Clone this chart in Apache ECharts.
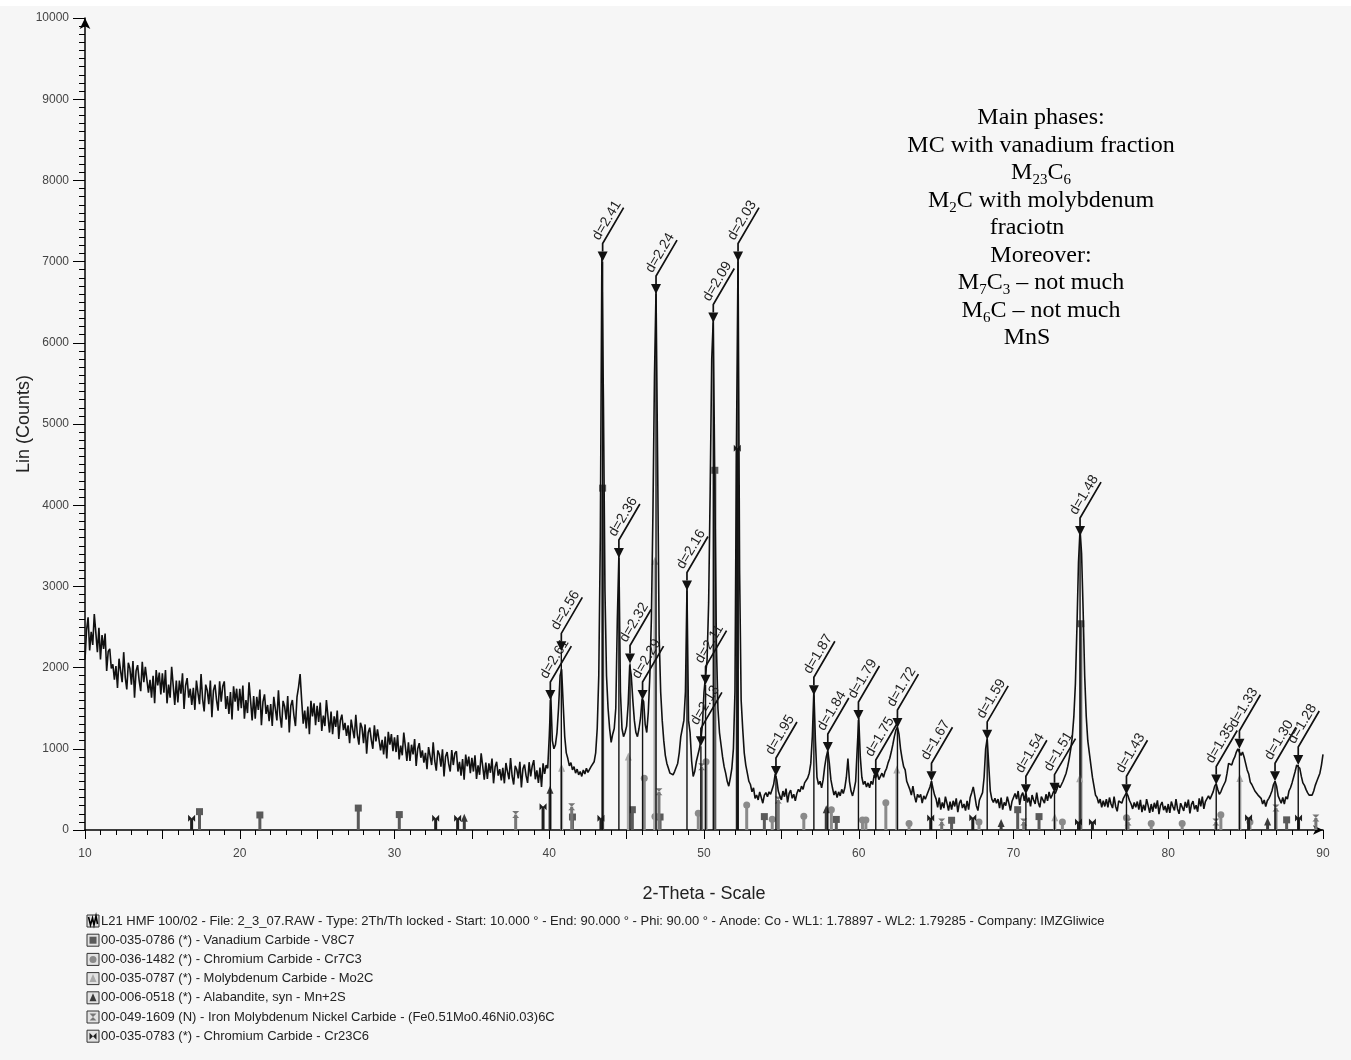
<!DOCTYPE html>
<html>
<head>
<meta charset="utf-8">
<script src="https://cdn.jsdelivr.net/npm/echarts@6/dist/echarts.min.js"></script>
<style>
  html, body { margin: 0; padding: 0; background: #f6f6f6; }
  #chart { width: 1351px; height: 1060px; }
</style>
</head>
<body>
<div id="chart"></div>
<script>
// Scan: 2Th/Th locked, Co anode, 10.0 - 90.0 deg, intensities at 0.1 deg steps
const scanStart = 10.0;
const scanStep = 0.1;
const counts = [
  2100, 2460, 2620, 2210, 2440, 2280, 2660, 2430, 2190, 2490,
  2100, 2400, 2230, 2420, 1960, 2200, 2230, 1990, 2040, 1850,
  2020, 1750, 2110, 1960, 1820, 2190, 1880, 1730, 2060, 1990,
  1790, 2080, 1630, 1960, 2030, 1840, 1710, 2070, 1820, 2010,
  2030, 1690, 1850, 1630, 1900, 1560, 1970, 1780, 1940, 1670,
  1930, 1690, 1970, 1560, 1790, 1630, 2010, 1780, 1540, 1840,
  1570, 1840, 1680, 1930, 1490, 1780, 1870, 1630, 1740, 1540,
  1750, 1480, 1840, 1690, 1550, 1920, 1610, 1460, 1790, 1720,
  1550, 1840, 1390, 1720, 1790, 1600, 1470, 1830, 1580, 1770,
  1830, 1490, 1650, 1430, 1700, 1360, 1770, 1580, 1740, 1470,
  1740, 1500, 1780, 1370, 1600, 1440, 1820, 1590, 1350, 1650,
  1370, 1640, 1480, 1730, 1290, 1580, 1670, 1430, 1540, 1340,
  1550, 1280, 1640, 1490, 1350, 1720, 1410, 1260, 1590, 1520,
  1360, 1650, 1200, 1530, 1600, 1410, 1280, 1640, 1760, 1920,
  1600, 1310, 1470, 1250, 1520, 1180, 1590, 1400, 1560, 1290,
  1530, 1330, 1570, 1220, 1410, 1280, 1600, 1400, 1200, 1460,
  1180, 1400, 1270, 1470, 1120, 1350, 1420, 1230, 1320, 1160,
  1290, 1070, 1360, 1240, 1130, 1420, 1170, 1050, 1320, 1260,
  1070, 1300,  940, 1200, 1260, 1110, 1000, 1290, 1090, 1240,
  1250,  980, 1110,  930, 1150,  880, 1210, 1050, 1180,  970,
  1140,  960, 1170,  870, 1040,  920, 1200, 1030,  850, 1080,
   850, 1050,  930, 1120,  790, 1000, 1070,  890,  980,  830,
   950,  750, 1020,  910,  800, 1080,  850,  730,  980,  930,
   780,  995,  660,  905,  960,  815,  720,  985,  800,  945,
   970,  720,  840,  670,  875,  620,  930,  785,  905,  700,
   890,  720,  920,  630,  795,  680,  945,  785,  620,  830,
   630,  820,  705,  880,  575,  775,  840,  670,  750,  610,
   765,  575,  825,  720,  625,  885,  665,  560,  790,  745,
   635,  840,  525,  755,  805,  670,  580,  835,  660,  790,
   860,  625,  735,  580,  770,  530,  820,  690,  800,  760,
  1150, 1650, 1100, 1000, 1050, 1200, 1500, 1900, 1980, 1550,
  1150,  950,  880,  790,  830,  740,  780,  700,  750,  680,
   720,  660,  740,  690,  760,  710,  720,  780,  760,  840,
   950, 1250, 1900, 3600, 7050, 5300, 2950, 1900, 1500, 1250,
  1080, 1180, 1250, 1500, 2600, 3380, 1700, 1250, 1150, 1200,
  1280, 1550, 2030, 1900, 1600, 1350, 1200, 1150, 1250, 1380,
  1620, 1580, 1300, 1200, 1450, 1900, 2600, 3900, 5600, 6650,
  4600, 2400, 1700, 1350, 1100,  920,  820,  760,  700,  720,
   680,  720,  700,  820,  950, 1150, 1250, 1350, 1700, 2980,
  1350, 1200,  850,  660,  720,  840,  920, 1000, 1110, 1300,
  1700, 1900, 2100, 2800, 4200, 5800, 6300, 4200, 2300, 1500,
  1200, 1050,  900,  780,  700,  600,  540,  640,  760, 1000,
  1700, 4800, 7080, 3200, 1600, 1250,  950,  800,  700,  600,
   560,  470,  520,  390,  430,  370,  470,  400,  330,  430,
   460,  410,  470,  440,  500,  560,  690,  620,  480,  420,
   370,  480,  410,  510,  340,  450,  490,  390,  440,  360,
   450,  500,  470,  540,  500,  580,  560,  640,  700,  820,
  1150, 1720, 1100,  650,  560,  600,  520,  620,  780,  900,
   980,  820,  620,  520,  430,  480,  400,  470,  420,  500,
   450,  520,  650,  880,  600,  480,  420,  500,  600, 1000,
  1380,  900,  650,  560,  600,  530,  580,  520,  600,  560,
   680,  640,  700,  620,  660,  700,  650,  720,  760,  830,
   880,  960, 1050, 1150, 1230, 1270, 1180, 1000,  880,  780,
   740,  600,  620,  500,  430,  540,  420,  340,  440,  400,
   440,  330,  420,  380,  400,  480,  530,  600,  510,  430,
   380,  280,  400,  250,  340,  270,  410,  330,  240,  350,
   250,  360,  290,  390,  220,  330,  370,  270,  320,  240,
   360,  250,  400,  460,  530,  420,  300,  240,  370,  350,
   460,  650, 1000, 1130,  800,  480,  380,  340,  390,  330,
   380,  270,  400,  250,  340,  300,  410,  330,  240,  350,
   340,  450,  380,  480,  310,  420,  460,  360,  460,  340,
   400,  290,  430,  370,  320,  460,  340,  280,  410,  390,
   330,  440,  360,  470,  390,  430,  480,  450,  500,  560,
   520,  560,  600,  650,  700,  780,  880, 1000, 1150, 1400,
  1800, 2500, 3300, 3700, 3400, 2700, 1900, 1400, 1100,  950,
   800,  650,  540,  430,  400,  330,  380,  280,  360,  290,
   380,  280,  400,  320,  270,  410,  290,  230,  360,  340,
   330,  390,  400,  460,  420,  360,  320,  260,  340,  280,
   350,  250,  370,  220,  310,  240,  380,  300,  210,  320,
   225,  335,  265,  365,  195,  305,  345,  245,  295,  215,
   320,  210,  350,  290,  240,  380,  260,  200,  330,  310,
   235,  345,  275,  375,  205,  315,  355,  255,  305,  225,
   390,  290,  410,  260,  350,  330,  420,  380,  360,  470,
   540,  570,  500,  440,  470,  520,  560,  600,  700,  820,
   840,  800,  860,  900,  960, 1000, 1020,  920,  960,  900,
   820,  740,  690,  590,  560,  520,  480,  500,  430,  450,
   390,  320,  370,  290,  360,  390,  430,  480,  560,  600,
   540,  420,  440,  330,  400,  320,  410,  380,  480,  520,
   580,  650,  720,  800,  820,  760,  660,  580,  550,  500,
   460,  430,  410,  430,  480,  550,  600,  620,  700,  800,
   930
];

// Peak search results: position (2Theta), marker height (counts), d-spacing label
const peakTheta  = [40.07, 40.78, 43.45, 44.5, 45.22, 46.03, 46.9, 48.9, 49.8, 50.1, 50.6, 52.2,
                    54.65, 57.1, 58.0, 59.98, 61.1, 62.5, 64.7, 68.3, 70.8, 72.65, 74.3, 77.3,
                    83.1, 84.6, 86.9, 88.4];
const peakCounts = [1600, 2200, 7000, 3350, 2050, 1600, 6600, 2950, 1030, 1790, 6250, 7000,
                    665, 1660, 960, 1355, 640, 1255, 600, 1110, 440, 460, 3620, 440,
                    560, 1000, 600, 800];
const peakLabels = ['d=2.61', 'd=2.56', 'd=2.41', 'd=2.36', 'd=2.32', 'd=2.29', 'd=2.24', 'd=2.16',
                    'd=2.13', 'd=2.11', 'd=2.09', 'd=2.03', 'd=1.95', 'd=1.87', 'd=1.84', 'd=1.79',
                    'd=1.75', 'd=1.72', 'd=1.67', 'd=1.59', 'd=1.54', 'd=1.51', 'd=1.48', 'd=1.43',
                    'd=1.35', 'd=1.33', 'd=1.30', 'd=1.28'];

// Reference patterns: [2Theta, scaled intensity]
const v8c7 = [[17.4, 226], [21.3, 185], [27.66, 270], [30.31, 190], [41.5, 160], [43.45, 4210],
              [45.37, 250], [47.16, 160], [50.7, 4430], [53.9, 165], [58.55, 130], [66.0, 120],
              [70.27, 250], [71.65, 165], [74.35, 2540], [87.65, 125]];
const cr7c3 = [[46.14, 636], [46.83, 165], [49.63, 205], [50.13, 840], [52.76, 308], [54.41, 131],
               [56.45, 170], [58.23, 250], [60.24, 123], [60.46, 123], [61.75, 335], [63.25, 80],
               [67.77, 100], [73.16, 100], [77.3, 150], [78.9, 80], [80.9, 80], [83.4, 187], [85.28, 100]];
const mo2c = [[40.8, 760], [45.11, 900], [46.83, 3310], [62.46, 740], [72.67, 150], [74.28, 630], [84.63, 633]];
const mns = [[34.51, 144], [40.05, 490], [57.9, 250], [69.2, 80], [86.42, 100]];
const femoni = [[37.83, 190], [41.45, 287], [47.09, 472], [49.85, 780], [54.8, 370], [65.36, 100],
                [70.66, 100], [77.4, 100], [83.08, 100], [86.96, 270], [89.54, 148]];
const cr23c6 = [[16.89, 144], [32.66, 144], [34.08, 144], [39.6, 287], [43.34, 144], [52.15, 4700],
                [64.65, 148], [67.37, 150], [74.2, 100], [75.1, 100], [85.19, 150], [88.42, 148]];

const scanLabel = 'L21 HMF 100/02 - File: 2_3_07.RAW - Type: 2Th/Th locked - Start: 10.000 ° - End: 90.000 ° - Phi: 90.00 ° - Anode: Co - WL1: 1.78897 - WL2: 1.79285 - Company: IMZGliwice';
const phaseLabels = [
  '00-035-0786 (*) - Vanadium Carbide - V8C7',
  '00-036-1482 (*) - Chromium Carbide - Cr7C3',
  '00-035-0787 (*) - Molybdenum Carbide - Mo2C',
  '00-006-0518 (*) - Alabandite, syn - Mn+2S',
  '00-049-1609 (N) - Iron Molybdenum Nickel Carbide - (Fe0.51Mo0.46Ni0.03)6C',
  '00-035-0783 (*) - Chromium Carbide - Cr23C6'
];
const phaseSticks = [v8c7, cr7c3, mo2c, mns, femoni, cr23c6];
const phaseColors = ['#5a5a5a', '#8a8a8a', '#a9a9a9', '#3a3a3a', '#767676', '#1e1e1e'];
const phaseShapes = ['square', 'circle', 'triangle', 'triangle', 'hourglass', 'bowtie'];

// Phase-identification notes
const noteLines = [
  '{n|Main phases:}',
  '{n|MC with vanadium fraction}',
  '{n|M}{s|23}{n|C}{s|6}',
  '{n|M}{s|2}{n|C with molybdenum}',
  '{n|fraciotn}',
  '{n|Moreover:}',
  '{n|M}{s|7}{n|C}{s|3}{n| – not much}',
  '{n|M}{s|6}{n|C – not much}',
  '{n|MnS}'
];
const noteX = [1041, 1041, 1041, 1041, 1027, 1041, 1041, 1041, 1027];

const SANS = '"Liberation Sans", Arial, Helvetica, sans-serif';
const SERIF = '"Liberation Serif", "Times New Roman", Times, serif';

function symbolShape(kind, x, y, color, s) {
  const h = s / 2;
  if (kind === 'square') {
    return { type: 'rect', shape: { x: x - h, y: y - h, width: s, height: s }, style: { fill: color } };
  }
  if (kind === 'circle') {
    return { type: 'circle', shape: { cx: x, cy: y, r: h }, style: { fill: color } };
  }
  if (kind === 'triangle') {
    return { type: 'polygon', shape: { points: [[x, y - h - 1], [x + h, y + h], [x - h, y + h]] }, style: { fill: color } };
  }
  if (kind === 'hourglass') {
    return { type: 'polygon', shape: { points: [[x - h, y - h], [x + h, y - h], [x - h, y + h], [x + h, y + h]] }, style: { fill: color } };
  }
  // bowtie
  return { type: 'polygon', shape: { points: [[x - h, y - h], [x - h, y + h], [x + h, y - h], [x + h, y + h]] }, style: { fill: color } };
}

function stickSeries(idx) {
  const color = phaseColors[idx];
  const kind = phaseShapes[idx];
  return {
    type: 'custom',
    name: phaseLabels[idx],
    data: phaseSticks[idx],
    encode: { x: 0, y: 1 },
    z: 3,
    clip: false,
    silent: true,
    renderItem: function (params, api) {
      const top = api.coord([api.value(0), api.value(1)]);
      const base = api.coord([api.value(0), 0]);
      const x = top[0], y = top[1];
      return {
        type: 'group',
        children: [
          { type: 'rect', shape: { x: x - 1.5, y: y, width: 3, height: base[1] - y }, style: { fill: color } },
          symbolShape(kind, x, y, color, 7)
        ]
      };
    }
  };
}

const scanData = counts.map((c, i) => [+(scanStart + i * scanStep).toFixed(2), c]);

const peakSeries = {
  type: 'custom',
  name: 'peaks',
  data: peakTheta.map((t, i) => [t, peakCounts[i], i]),
  encode: { x: 0, y: 1 },
  z: 5,
  clip: false,
  silent: true,
  renderItem: function (params, api) {
    const i = api.value(2);
    const tip = api.coord([api.value(0), api.value(1)]);
    const base = api.coord([api.value(0), 0]);
    const x = tip[0], y = tip[1];
    return {
      type: 'group',
      children: [
        { type: 'line', shape: { x1: x, y1: base[1], x2: x, y2: y }, style: { stroke: '#111', lineWidth: 1.4 } },
        { type: 'polygon', shape: { points: [[x - 5, y - 10], [x + 5, y - 10], [x, y]] }, style: { fill: '#111' } },
        { type: 'polyline', shape: { points: [[x, y - 10], [x, y - 18], [x + 21, y - 54]] },
          style: { stroke: '#111', lineWidth: 1.7, fill: null } },
        { type: 'text', x: x - 1, y: y - 19, rotation: 59 * Math.PI / 180,
          style: { text: peakLabels[i], font: '14px ' + SANS, fill: '#222',
                   align: 'left', verticalAlign: 'bottom', textAlign: 'left', textVerticalAlign: 'bottom' } }
      ]
    };
  }
};

// Legend rows drawn as graphics
const legendGraphics = [];
const rowY0 = 921, rowGap = 19.2;
function legendRow(i, iconChildren, text) {
  const y = rowY0 + i * rowGap;
  legendGraphics.push({
    type: 'group', silent: true,
    children: [
      { type: 'rect', shape: { x: 87, y: y - 6, width: 12, height: 12 }, style: { fill: '#e2e2e2', stroke: '#333', lineWidth: 1 } }
    ].concat(iconChildren(y)).concat([
      { type: 'text', x: 101, y: y, style: { text: text, font: '13px ' + SANS, fill: '#222',
        align: 'left', verticalAlign: 'middle', textAlign: 'left', textVerticalAlign: 'middle' } }
    ])
  });
}
legendRow(0, function (y) {
  return [{ type: 'polyline', shape: { points: [[88.5, y - 4], [90.5, y + 4], [92.5, y - 3], [94, y + 4], [96, y - 5], [97.5, y + 3]] },
            style: { stroke: '#000', lineWidth: 1.6, fill: null } }];
}, scanLabel);
phaseLabels.forEach(function (label, k) {
  legendRow(k + 1, function (y) { return [symbolShape(phaseShapes[k], 93, y, phaseColors[k], 7)]; }, label);
});

const noteGraphics = noteLines.map(function (line, i) {
  return {
    type: 'text', silent: true,
    x: noteX[i], y: 118 + i * 27.5,
    style: {
      text: line,
      align: 'center', verticalAlign: 'middle', textAlign: 'center', textVerticalAlign: 'middle',
      rich: {
        n: { fontFamily: SERIF, fontSize: 24, lineHeight: 30, verticalAlign: 'middle', color: '#000' },
        s: { fontFamily: SERIF, fontSize: 15, lineHeight: 15, verticalAlign: 'bottom', color: '#000' }
      }
    }
  };
});

const chart = echarts.init(document.getElementById('chart'));
chart.setOption({
  backgroundColor: '#f6f6f6',
  animation: false,
  grid: { left: 85, top: 18, width: 1238, height: 812, containLabel: false, outerBoundsMode: 'none' },
  xAxis: {
    type: 'value', min: 10, max: 90, interval: 5,
    name: '2-Theta - Scale', nameLocation: 'middle', nameGap: 55, nameMoveOverlap: false,
    nameTextStyle: { fontFamily: SANS, fontSize: 18, color: '#222' },
    axisLine: { show: true, symbol: ['none', 'arrow'], symbolSize: [7, 10], lineStyle: { color: '#000', width: 1.5 } },
    axisTick: { show: true, length: 9, lineStyle: { color: '#000', width: 1 } },
    minorTick: { show: true, splitNumber: 5, length: 5, lineStyle: { color: '#000', width: 1 } },
    axisLabel: { fontFamily: SANS, fontSize: 12, color: '#444', margin: 18,
                 formatter: function (v) { return v % 10 === 0 ? String(v) : ''; } },
    splitLine: { show: false }
  },
  yAxis: {
    type: 'value', min: 0, max: 10000, interval: 1000,
    name: 'Lin (Counts)', nameLocation: 'middle', nameGap: 52, nameRotate: 90, nameMoveOverlap: false,
    nameTextStyle: { fontFamily: SANS, fontSize: 18, color: '#222' },
    axisLine: { show: true, symbol: ['none', 'arrow'], symbolSize: [8, 11], lineStyle: { color: '#000', width: 1.5 } },
    axisTick: { show: true, length: 12, lineStyle: { color: '#000', width: 1 } },
    minorTick: { show: true, splitNumber: 10, length: 6, lineStyle: { color: '#000', width: 1 } },
    axisLabel: { fontFamily: SANS, fontSize: 12, color: '#444', margin: 16,
                 formatter: function (v) { return String(v); } },
    splitLine: { show: false }
  },
  graphic: [
    { type: 'rect', silent: true, shape: { x: 0, y: 0, width: 1351, height: 6 }, style: { fill: '#ffffff' } }
  ].concat(noteGraphics).concat(legendGraphics),
  series: [
    {
      type: 'line', name: 'L21 HMF 100/02', data: scanData, showSymbol: false, symbol: 'none',
      lineStyle: { color: '#111', width: 1.6 }, z: 4, silent: true
    }
  ].concat(phaseSticks.map(function (_, k) { return stickSeries(k); })).concat([peakSeries])
});
</script>
</body>
</html>
